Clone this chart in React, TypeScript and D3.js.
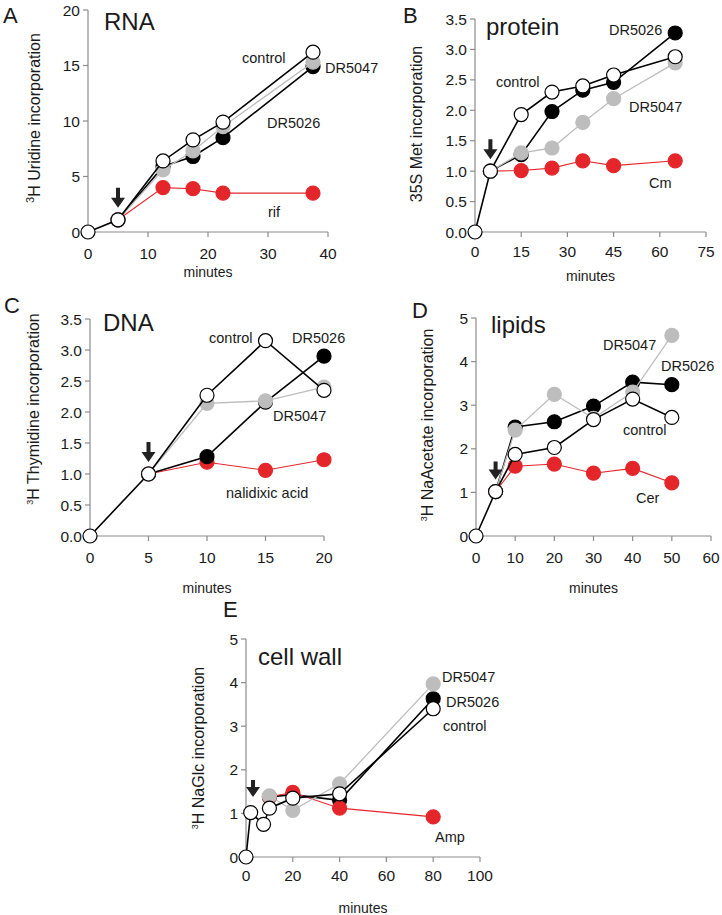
import React from "react";
import * as d3 from "d3";

const RED = "#e4262b";
const GREY = "#bdbdbd";
const AXIS = "#8c8c8c";
const TEXT = "#1a1a1a";

// ---------- Panel A: RNA ----------
const rnaTimes = [0, 5, 12.5, 17.5, 22.5, 37.5];
const rnaControl = [0, 1.1, 6.4, 8.3, 9.9, 16.2];
const rnaTreatTimes = [5, 12.5, 17.5, 22.5, 37.5];
const rnaDR5026 = [1.1, 5.9, 6.8, 8.5, 14.9];
const rnaDR5047 = [1.1, 5.6, 7.3, 9.5, 15.3];
const rnaRif = [1.1, 4.0, 3.9, 3.5, 3.5];
const rnaXTicks = [0, 10, 20, 30, 40];
const rnaYTicks = [0, 5, 10, 15, 20];

// ---------- Panel B: protein ----------
const protTimes = [0, 5, 15, 25, 35, 45, 65];
const protControl = [0, 1.0, 1.93, 2.3, 2.4, 2.58, 2.88];
const protTreatTimes = [5, 15, 25, 35, 45, 65];
const protDR5026 = [1.0, 1.27, 1.98, 2.33, 2.46, 3.27];
const protDR5047 = [1.0, 1.3, 1.38, 1.8, 2.19, 2.78];
const protCm = [1.0, 1.01, 1.05, 1.17, 1.09, 1.17];
const protXTicks = [0, 15, 30, 45, 60, 75];
const protYTicks = [0, 0.5, 1, 1.5, 2, 2.5, 3, 3.5];

// ---------- Panel C: DNA ----------
const dnaTimes = [0, 5, 10, 15, 20];
const dnaControl = [0, 1.0, 2.27, 3.15, 2.35];
const dnaTreatTimes = [5, 10, 15, 20];
const dnaDR5026 = [1.0, 1.28, 2.16, 2.9];
const dnaDR5047 = [1.0, 2.14, 2.18, 2.4];
const dnaNal = [1.0, 1.19, 1.06, 1.23];
const dnaXTicks = [0, 5, 10, 15, 20];
const dnaYTicks = [0, 0.5, 1, 1.5, 2, 2.5, 3, 3.5];

// ---------- Panel D: lipids ----------
const lipTimes = [0, 5, 10, 20, 30, 40, 50];
const lipControl = [0, 1.02, 1.87, 2.03, 2.67, 3.14, 2.72];
const lipTreatTimes = [5, 10, 20, 30, 40, 50];
const lipDR5026 = [1.02, 2.5, 2.62, 2.98, 3.53, 3.47];
const lipDR5047 = [1.02, 2.43, 3.25, 2.7, 3.3, 4.6];
const lipCer = [1.02, 1.6, 1.65, 1.44, 1.55, 1.22];
const lipXTicks = [0, 10, 20, 30, 40, 50, 60];
const lipYTicks = [0, 1, 2, 3, 4, 5];

// ---------- Panel E: cell wall ----------
const cwTimes = [0, 2, 7.5, 10, 20, 40, 80];
const cwControl = [0, 1.02, 0.75, 1.12, 1.35, 1.45, 3.4];
const cwTreatTimes = [10, 20, 40, 80];
const cwDR5026 = [1.38, 1.43, 1.3, 3.63];
const cwDR5047 = [1.4, 1.07, 1.68, 3.97];
const cwAmp = [1.38, 1.48, 1.12, 0.92];
const cwXTicks = [0, 20, 40, 60, 80, 100];
const cwYTicks = [0, 1, 2, 3, 4, 5];

type Kind = "control" | "dr5026" | "dr5047" | "drug";
interface Series { times: number[]; values: number[]; kind: Kind }
interface Label { text: string; x: number; y: number; size?: number }
interface PanelCfg {
  letter: Label;
  title: Label;
  xRange: [number, number];
  yRange: [number, number];
  xDomain: [number, number];
  yDomain: [number, number];
  xTicks: number[];
  yTicks: number[];
  yFmt: (v: number) => string;
  tickLabelOffset: number;
  minutesY: number;
  yLabel: { sup: string; main: string; x: number; y: number; supSmall: boolean };
  series: Series[];
  labels: Label[];
  arrow: { t: number; v: number; len: number };
}

const int = (v: number) => d3.format("d")(v);
const one = (v: number) => d3.format(".1f")(v);

const panels: PanelCfg[] = [
  {
    letter: { text: "A", x: 3, y: 15, size: 22 },
    title: { text: "RNA", x: 104, y: 22, size: 24 },
    xRange: [88, 328], yRange: [232, 10], xDomain: [0, 40], yDomain: [0, 20],
    xTicks: rnaXTicks, yTicks: rnaYTicks, yFmt: int, tickLabelOffset: 21, minutesY: 272,
    yLabel: { sup: "3", main: "H Uridine incorporation", x: 40, y: 118, supSmall: false },
    series: [
      { times: rnaTreatTimes, values: rnaRif, kind: "drug" },
      { times: rnaTreatTimes, values: rnaDR5026, kind: "dr5026" },
      { times: rnaTreatTimes, values: rnaDR5047, kind: "dr5047" },
      { times: rnaTimes, values: rnaControl, kind: "control" },
    ],
    labels: [
      { text: "control", x: 242, y: 58 },
      { text: "DR5047", x: 325, y: 68 },
      { text: "DR5026", x: 267, y: 123 },
      { text: "rif", x: 268, y: 212 },
    ],
    arrow: { t: 5, v: 1.1, len: 20 },
  },
  {
    letter: { text: "B", x: 403, y: 15, size: 22 },
    title: { text: "protein", x: 486, y: 27, size: 24 },
    xRange: [475, 706], yRange: [232, 19], xDomain: [0, 75], yDomain: [0, 3.5],
    xTicks: protXTicks, yTicks: protYTicks, yFmt: one, tickLabelOffset: 19, minutesY: 276,
    yLabel: { sup: "35", main: "S Met incorporation", x: 422, y: 124, supSmall: false },
    series: [
      { times: protTreatTimes, values: protCm, kind: "drug" },
      { times: protTreatTimes, values: protDR5026, kind: "dr5026" },
      { times: protTreatTimes, values: protDR5047, kind: "dr5047" },
      { times: protTimes, values: protControl, kind: "control" },
    ],
    labels: [
      { text: "DR5026", x: 609, y: 30 },
      { text: "control", x: 496, y: 82 },
      { text: "DR5047", x: 629, y: 107 },
      { text: "Cm", x: 649, y: 183 },
    ],
    arrow: { t: 5, v: 1.0, len: 20 },
  },
  {
    letter: { text: "C", x: 4, y: 305, size: 22 },
    title: { text: "DNA", x: 103, y: 323, size: 24 },
    xRange: [90, 324], yRange: [536, 319], xDomain: [0, 20], yDomain: [0, 3.5],
    xTicks: dnaXTicks, yTicks: dnaYTicks, yFmt: one, tickLabelOffset: 21, minutesY: 588,
    yLabel: { sup: "3", main: "H Thymidine incorporation", x: 39, y: 409, supSmall: true },
    series: [
      { times: dnaTreatTimes, values: dnaNal, kind: "drug" },
      { times: dnaTreatTimes, values: dnaDR5026, kind: "dr5026" },
      { times: dnaTreatTimes, values: dnaDR5047, kind: "dr5047" },
      { times: dnaTimes, values: dnaControl, kind: "control" },
    ],
    labels: [
      { text: "control", x: 209, y: 338 },
      { text: "DR5026", x: 292, y: 338 },
      { text: "DR5047", x: 273, y: 416 },
      { text: "nalidixic acid", x: 226, y: 493 },
    ],
    arrow: { t: 5, v: 1.0, len: 20 },
  },
  {
    letter: { text: "D", x: 412, y: 310, size: 22 },
    title: { text: "lipids", x: 491, y: 325, size: 24 },
    xRange: [476, 711], yRange: [536, 318], xDomain: [0, 60], yDomain: [0, 5],
    xTicks: lipXTicks, yTicks: lipYTicks, yFmt: int, tickLabelOffset: 21, minutesY: 588,
    yLabel: { sup: "3", main: "H NaAcetate incorporation", x: 433, y: 425, supSmall: true },
    series: [
      { times: lipTreatTimes, values: lipCer, kind: "drug" },
      { times: lipTreatTimes, values: lipDR5026, kind: "dr5026" },
      { times: lipTreatTimes, values: lipDR5047, kind: "dr5047" },
      { times: lipTimes, values: lipControl, kind: "control" },
    ],
    labels: [
      { text: "DR5047", x: 603, y: 345 },
      { text: "DR5026", x: 661, y: 366 },
      { text: "control", x: 623, y: 430 },
      { text: "Cer", x: 636, y: 498 },
    ],
    arrow: { t: 5, v: 1.02, len: 18 },
  },
  {
    letter: { text: "E", x: 223, y: 609, size: 22 },
    title: { text: "cell wall", x: 258, y: 657, size: 24 },
    xRange: [246, 480], yRange: [857, 639], xDomain: [0, 100], yDomain: [0, 5],
    xTicks: cwXTicks, yTicks: cwYTicks, yFmt: int, tickLabelOffset: 18, minutesY: 908,
    yLabel: { sup: "3", main: "H NaGlc incorporation", x: 204, y: 748, supSmall: true },
    series: [
      { times: cwTreatTimes, values: cwDR5026, kind: "dr5026" },
      { times: cwTreatTimes, values: cwAmp, kind: "drug" },
      { times: cwTreatTimes, values: cwDR5047, kind: "dr5047" },
      { times: cwTimes, values: cwControl, kind: "control" },
    ],
    labels: [
      { text: "DR5047", x: 442, y: 677 },
      { text: "DR5026", x: 446, y: 702 },
      { text: "control", x: 443, y: 726 },
      { text: "Amp", x: 435, y: 837 },
    ],
    arrow: { t: 3, v: 1.1, len: 17 },
  },
];

const style: Record<Kind, { line: string; lw: number; fill: string; stroke: string }> = {
  control: { line: "#000", lw: 1.6, fill: "#fff", stroke: "#000" },
  dr5026: { line: "#000", lw: 1.6, fill: "#000", stroke: "#000" },
  dr5047: { line: GREY, lw: 1.3, fill: GREY, stroke: GREY },
  drug: { line: RED, lw: 1.1, fill: RED, stroke: RED },
};

const FONT = "'Liberation Sans', Arial, Helvetica, sans-serif";

function Panel({ p }: { p: PanelCfg }) {
  const x = d3.scaleLinear().domain(p.xDomain).range(p.xRange);
  const y = d3.scaleLinear().domain(p.yDomain).range(p.yRange);
  const x0 = p.xRange[0];
  const y0 = p.yRange[0];
  const line = d3.line<[number, number]>().x((d) => x(d[0])).y((d) => y(d[1]));
  const ax = x(p.arrow.t);
  const tipY = y(p.arrow.v) - 12;
  const L = p.arrow.len;
  const arrowPath = `M${ax - 2},${tipY - L} L${ax + 2},${tipY - L} L${ax + 2},${tipY - 10} L${ax + 7},${tipY - 10} L${ax},${tipY} L${ax - 7},${tipY - 10} L${ax - 2},${tipY - 10} Z`;
  const midX = (p.xRange[0] + p.xRange[1]) / 2;
  const is35 = p.yLabel.sup === "35";
  return (
    <g fontFamily={FONT} fill={TEXT}>
      {/* axes */}
      <line x1={x0} x2={x0} y1={p.yRange[1]} y2={y0} stroke={AXIS} strokeWidth={1.2} />
      <line x1={x0} x2={p.xRange[1]} y1={y0} y2={y0} stroke={AXIS} strokeWidth={1.2} />
      {p.yTicks.map((t) => (
        <g key={"y" + t}>
          <line x1={x0 - 5} x2={x0} y1={y(t)} y2={y(t)} stroke={AXIS} strokeWidth={1.2} />
          <text x={x0 - 8} y={y(t) + 5.5} textAnchor="end" fontSize={15.5}>
            {p.yFmt(t)}
          </text>
        </g>
      ))}
      {p.xTicks.map((t) => (
        <g key={"x" + t}>
          <line x1={x(t)} x2={x(t)} y1={y0} y2={y0 + 5} stroke={AXIS} strokeWidth={1.2} />
          <text x={x(t)} y={y0 + p.tickLabelOffset + 5.5} textAnchor="middle" fontSize={15.5}>
            {int(t)}
          </text>
        </g>
      ))}
      <text x={midX} y={p.minutesY + 5} textAnchor="middle" fontSize={14}>
        minutes
      </text>
      {/* y label */}
      <text
        transform={`translate(${p.yLabel.x},${p.yLabel.y}) rotate(-90)`}
        textAnchor="middle"
        fontSize={16}
        dy={5}
      >
        <tspan fontSize={p.yLabel.supSmall ? 9 : is35 ? 16 : 11} dy={is35 ? 0 : -6}>
          {p.yLabel.sup}
        </tspan>
        <tspan dy={is35 ? 0 : 6}>{p.yLabel.main}</tspan>
      </text>
      {/* letter & title */}
      <text x={p.letter.x} y={p.letter.y + 8} fontSize={p.letter.size}>
        {p.letter.text}
      </text>
      <text x={p.title.x} y={p.title.y + 8} fontSize={p.title.size}>
        {p.title.text}
      </text>
      {/* series */}
      {p.series.map((s, i) => {
        const st = style[s.kind];
        const pts: [number, number][] = s.times.map((t, j) => [t, s.values[j]]);
        return (
          <g key={"s" + i}>
            <path d={line(pts) || ""} fill="none" stroke={st.line} strokeWidth={st.lw} />
            {pts.map((d, j) => (
              <circle
                key={j}
                cx={x(d[0])}
                cy={y(d[1])}
                r={7}
                fill={st.fill}
                stroke={st.stroke}
                strokeWidth={1.2}
              />
            ))}
          </g>
        );
      })}
      {/* labels */}
      {p.labels.map((l, i) => (
        <text key={"l" + i} x={l.x} y={l.y + 5} fontSize={14.5}>
          {l.text}
        </text>
      ))}
      {/* arrow */}
      <path d={arrowPath} fill="#222" />
    </g>
  );
}

export default function App() {
  return (
    <svg width={722} height={915} style={{ display: "block", position: "absolute", left: 0, top: 0, background: "#fff" }}>
      <rect x={0} y={0} width={722} height={915} fill="#fff" />
      {panels.map((p, i) => (
        <Panel key={i} p={p} />
      ))}
    </svg>
  );
}
